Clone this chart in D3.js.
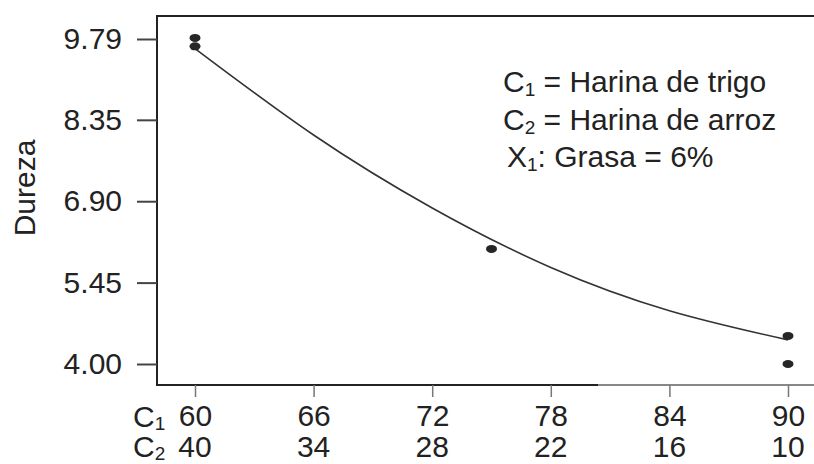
<html>
<meta charset="utf-8">
<script src="https://d3js.org/d3.v7.min.js"></script>
<head><title>Dureza</title>
<style>
  html, body { margin: 0; background: #fff; overflow: hidden; }
  svg { display: block; }
  text { font-family: "Liberation Sans", Arial, sans-serif; fill: #222; }
</style>
</head>
<body>
<div id="chart"></div>
<script>
// tick values / labels
var yTicks = [4.00, 5.45, 6.90, 8.35, 9.79];
var c1Ticks = [60, 66, 72, 78, 84, 90];
var c2Ticks = [40, 34, 28, 22, 16, 10];

// observed points (C1 %, dureza)
var obsC1 = [60, 60, 75, 90, 90];
var obsDureza = [9.81, 9.66, 6.05, 4.50, 4.00];

// fitted curve
var fitC1 = [60, 66, 72, 78, 84, 90];
var fitDureza = [9.62, 8.08, 6.78, 5.72, 4.95, 4.43];

var legendLines = [
  ["C", "1", " = Harina de trigo"],
  ["C", "2", " = Harina de arroz"],
  ["X", "1", ": Grasa = 6%"]
];

var svg = d3.select('#chart')
            .append('svg')
            .attr('width', 814)
            .attr('height', 464);

var x = d3.scaleLinear().domain([60, 90]).range([195, 788]);
var y = d3.scaleLinear().domain([4, 9.79]).range([364, 39]);

// (don't call it "top", window.top is read only)
var frameL = 157, frameT = 16, frameB = 385;

// frame: top and left sides, right side is off the picture
svg.append('line')
   .attr('x1', frameL).attr('x2', 830).attr('y1', frameT).attr('y2', frameT)
   .attr('stroke', '#222').attr('stroke-width', 2);
svg.append('line')
   .attr('x1', frameL).attr('x2', frameL).attr('y1', frameT - 1).attr('y2', frameB + 1)
   .attr('stroke', '#222').attr('stroke-width', 2);
svg.append('line')
   .attr('x1', frameL).attr('x2', 598).attr('y1', frameB).attr('y2', frameB)
   .attr('stroke', '#222').attr('stroke-width', 2);
svg.append('line')
   .attr('x1', 598).attr('x2', 830).attr('y1', frameB).attr('y2', frameB)
   .attr('stroke', '#888').attr('stroke-width', 2);

// y axis
var yAxis = d3.axisLeft(y)
  .tickValues(yTicks)
  .tickFormat(d3.format('.2f'))
  .tickSize(20)
  .tickPadding(15);
var gy = svg.append('g').attr('transform', 'translate(' + frameL + ',0)').call(yAxis);
gy.select('.domain').remove();
gy.selectAll('line').attr('stroke', '#444').attr('stroke-width', 2);
gy.selectAll('text').attr('font-size', 30).attr('fill', '#222')
  .attr('font-family', '"Liberation Sans", Arial, sans-serif');

// x axis: C1 row then C2 row
var xAxis = d3.axisBottom(x)
  .tickValues(c1Ticks)
  .tickSize(12)
  .tickPadding(8);
var gx = svg.append('g').attr('transform', 'translate(0,' + frameB + ')').call(xAxis);
gx.select('.domain').remove();
gx.selectAll('line').attr('stroke', '#777').attr('stroke-width', 1.5);
gx.selectAll('text').attr('font-size', 30).attr('fill', '#222')
  .attr('font-family', '"Liberation Sans", Arial, sans-serif');

svg.selectAll('.c2lab')
   .data(c1Ticks)
   .enter().append('text')
   .attr('class', 'c2lab')
   .attr('x', function(d) { return x(d); })
   .attr('y', 457)
   .attr('text-anchor', 'middle')
   .attr('font-size', 30)
   .text(function(d, i) { return c2Ticks[i]; });

// row names C1 / C2
[['1', 427], ['2', 457]].forEach(function(r) {
  var t = svg.append('text').attr('x', 133).attr('y', r[1]).attr('font-size', 30);
  t.append('tspan').text('C');
  t.append('tspan').attr('font-size', 19).attr('dy', 3).text(r[0]);
});

// y title
svg.append('text')
   .attr('transform', 'translate(35,188) rotate(-90)')
   .attr('text-anchor', 'middle')
   .attr('font-size', 30)
   .text('Dureza');

// fitted curve
var fitData = fitC1.map(function(c, i) { return { c: c, v: fitDureza[i] }; });
var line = d3.line()
  .x(function(d) { return x(d.c); })
  .y(function(d) { return y(d.v); })
  .curve(d3.curveNatural);
svg.append('path')
   .attr('d', line(fitData))
   .attr('fill', 'none')
   .attr('stroke', '#333')
   .attr('stroke-width', 1.6);

// observed points
svg.selectAll('.pt')
   .data(obsC1)
   .enter().append('ellipse')
   .attr('class', 'pt')
   .attr('cx', function(d) { return x(d); })
   .attr('cy', function(d, i) { return y(obsDureza[i]); })
   .attr('rx', 5.5)
   .attr('ry', 4)
   .attr('fill', '#262626');

// legend text
legendLines.forEach(function(l, i) {
  var t = svg.append('text')
             .attr('x', i == 2 ? 507 : 503)
             .attr('y', 92 + i * 37.5)
             .attr('font-size', 30);
  t.append('tspan').text(l[0]);
  t.append('tspan').attr('font-size', 19).attr('dy', 4).text(l[1]);
  t.append('tspan').attr('dy', -4).text(l[2]);
});
</script>
</body>
</html>
